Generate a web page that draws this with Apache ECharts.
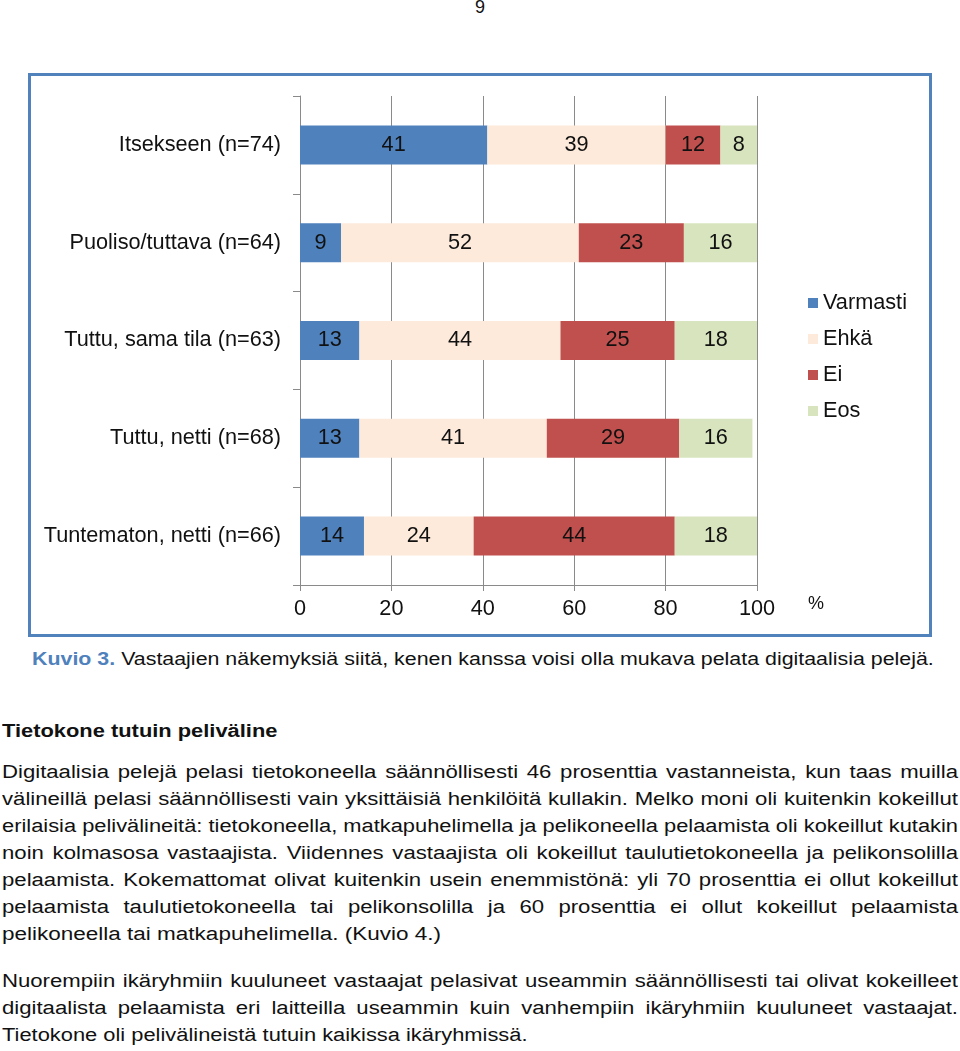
<!DOCTYPE html>
<html>
<head>
<meta charset="utf-8">
<script src="https://cdn.jsdelivr.net/npm/echarts@6/dist/echarts.min.js"></script>
<style>
  html, body { margin: 0; padding: 0; background: #fff; }
  body { width: 960px; height: 1051px; position: relative; overflow: hidden;
         font-family: "Liberation Sans", Arial, sans-serif; color: #111; }
  #chart { position: absolute; left: 0; top: 0; width: 960px; height: 640px; }
  #frame { position: absolute; left: 28px; top: 73px; width: 898px; height: 558px;
           border: 3px solid #5282BC; }
  .t { position: absolute; left: 2px; font-size: 18px; line-height: 27px; white-space: nowrap;
       transform-origin: 0 50%; }
  .t.j { text-align: justify; text-align-last: justify; }
  #pageno { position: absolute; top: -3px; left: 0; width: 960px; text-align: center; font-size: 18px; }
  #caption { left: 32px; top: 646px; font-size: 17.5px; }
  #caption b { color: #4F81BD; }
  #heading { top: 718px; font-weight: bold; }
</style>
</head>
<body>
<div id="pageno">9</div>
<div id="frame"></div>
<div id="chart"></div>
<div class="t" id="caption" data-s="1.222"><span><b>Kuvio 3.</b> Vastaajien näkemyksiä siitä, kenen kanssa voisi olla mukava pelata digitaalisia pelejä.</span></div>
<div class="t" id="heading" data-s="1.215"><span>Tietokone tutuin peliväline</span></div>
<div class="t" data-j="1" style="top:759px"><span>Digitaalisia pelejä pelasi tietokoneella säännöllisesti 46 prosenttia vastanneista, kun taas muilla</span></div>
<div class="t" data-j="1" style="top:786px"><span>välineillä pelasi säännöllisesti vain yksittäisiä henkilöitä kullakin. Melko moni oli kuitenkin kokeillut</span></div>
<div class="t" data-j="1" style="top:813px"><span>erilaisia pelivälineitä: tietokoneella, matkapuhelimella ja pelikoneella pelaamista oli kokeillut kutakin</span></div>
<div class="t" data-j="1" style="top:840px"><span>noin kolmasosa vastaajista. Viidennes vastaajista oli kokeillut taulutietokoneella ja pelikonsolilla</span></div>
<div class="t" data-j="1" style="top:867px"><span>pelaamista. Kokemattomat olivat kuitenkin usein enemmistönä: yli 70 prosenttia ei ollut kokeillut</span></div>
<div class="t" data-j="1" style="top:894px"><span>pelaamista taulutietokoneella tai pelikonsolilla ja 60 prosenttia ei ollut kokeillut pelaamista</span></div>
<div class="t" data-s="1.25" style="top:921px"><span>pelikoneella tai matkapuhelimella. (Kuvio 4.)</span></div>
<div class="t" data-j="1" style="top:968px"><span>Nuorempiin ikäryhmiin kuuluneet vastaajat pelasivat useammin säännöllisesti tai olivat kokeilleet</span></div>
<div class="t" data-j="1" style="top:995px"><span>digitaalista pelaamista eri laitteilla useammin kuin vanhempiin ikäryhmiin kuuluneet vastaajat.</span></div>
<div class="t" data-s="1.215" style="top:1022px"><span>Tietokone oli pelivälineistä tutuin kaikissa ikäryhmissä.</span></div>
<script>
// Horizontal stretch of the page text (reference glyphs are wider than Arial)
(function () {
  const S = 1.23, FULL = 956;
  document.querySelectorAll('.t').forEach(el => {
    const nat = el.firstElementChild.getBoundingClientRect().width;
    let s = el.dataset.s ? parseFloat(el.dataset.s) : S;
    if (el.dataset.j) {
      if (nat * s > FULL) s = FULL / nat;
      el.style.width = (FULL / s) + 'px';
      el.classList.add('j');
    }
    el.style.transform = 'scaleX(' + s + ')';
  });
})();

const categories = ['Itsekseen (n=74)', 'Puoliso/tuttava (n=64)', 'Tuttu, sama tila (n=63)', 'Tuttu, netti (n=68)', 'Tuntematon, netti (n=66)'];
const varmasti = [41, 9, 13, 13, 14];
const ehka = [39, 52, 44, 41, 24];
const ei = [12, 23, 25, 29, 44];
const eos = [8, 16, 18, 16, 18];
const xTicks = [0, 20, 40, 60, 80, 100];

const seriesNames = ['Varmasti', 'Ehkä', 'Ei', 'Eos'];
const seriesData = [varmasti, ehka, ei, eos];
const colors = ['#4F81BD', '#FDEADA', '#C0504D', '#D7E4BD'];
const font = '"Liberation Sans", Arial, sans-serif';
const fs = 21.7;

const chart = echarts.init(document.getElementById('chart'), null, { renderer: 'canvas' });
chart.setOption({
  animation: false,
  textStyle: { fontFamily: font },
  grid: { left: 300, right: 203, top: 96, bottom: 55, containLabel: false },
  legend: {
    orient: 'vertical', left: 803, top: 287,
    itemWidth: 10, itemHeight: 10, itemGap: 14, icon: 'rect',
    textStyle: { fontSize: fs, color: '#111', fontFamily: font },
    data: seriesNames
  },
  xAxis: {
    type: 'value', min: xTicks[0], max: xTicks[xTicks.length - 1], interval: 20,
    axisLine: { show: true, lineStyle: { color: '#8a8a8a', width: 1 } },
    axisTick: { show: true, length: 6, lineStyle: { color: '#8a8a8a' } },
    axisLabel: { fontSize: fs, color: '#111', margin: 13, fontFamily: font },
    splitLine: { show: true, lineStyle: { color: '#8a8a8a', width: 1 } }
  },
  yAxis: {
    type: 'category', inverse: true, data: categories,
    axisLine: { show: true, lineStyle: { color: '#8a8a8a', width: 1 } },
    axisTick: { show: true, length: 7, lineStyle: { color: '#8a8a8a' } },
    axisLabel: { fontSize: fs, color: '#111', margin: 19, fontFamily: font },
    splitLine: { show: false }
  },
  graphic: [
    { type: 'text', left: 808, top: 595, style: { text: '%', fontSize: 18, fill: '#111', fontFamily: font } }
  ],
  series: seriesNames.map((n, i) => ({
    name: n, type: 'bar', stack: 'total', barWidth: 39,
    itemStyle: { color: colors[i] },
    label: { show: true, position: 'inside', fontSize: fs, color: '#111', fontFamily: font },
    data: seriesData[i]
  }))
});
</script>
</body>
</html>
